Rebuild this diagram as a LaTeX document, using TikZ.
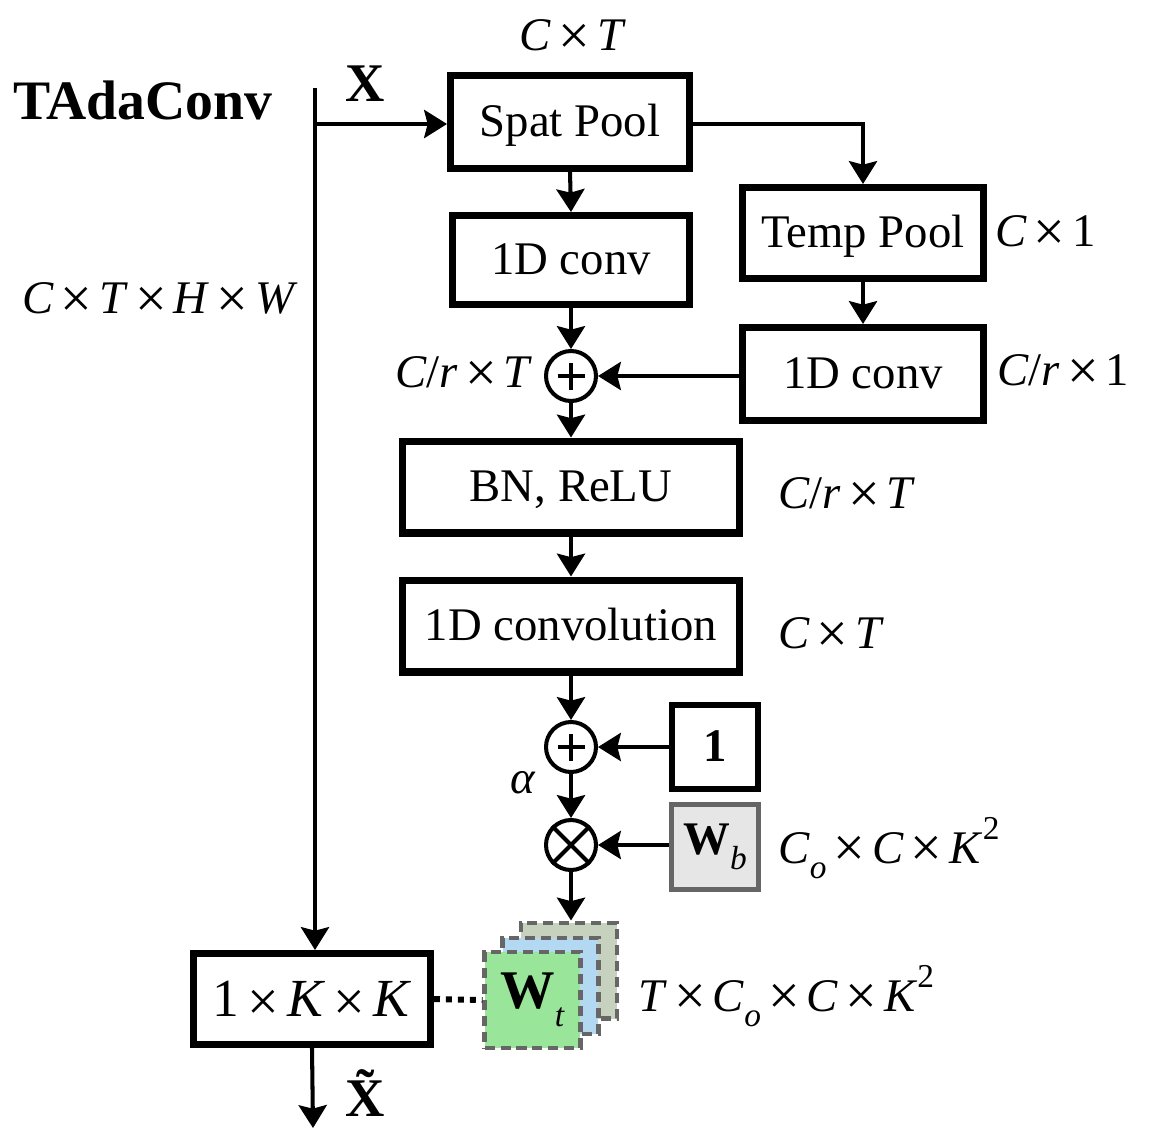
\documentclass[tikz,border=0pt]{standalone}
\usepackage{fontspec}
\setmainfont{Liberation Serif}
\usetikzlibrary{arrows.meta}
% a larger multiplication sign, centred on the math axis
\newcommand\tms{\kern0.15em\raisebox{-0.07em}{\fontsize{32}{32}\selectfont×}\kern0.15em}
\newcommand\vi[1]{\textit{#1}}
\newcommand\lowsub[1]{\raisebox{-0.32em}{\fontsize{19}{19}\selectfont#1}}
\newcommand\highsup[1]{\raisebox{0.5em}{\fontsize{19}{19}\selectfont#1}}
\definecolor{wtgreen}{HTML}{99E599}
\definecolor{wtblue}{HTML}{B3D9F2}
\definecolor{wtsage}{HTML}{C6D2BE}
\definecolor{wbfill}{HTML}{E6E6E6}
\definecolor{edgegray}{HTML}{666666}
\begin{document}
\begin{tikzpicture}[x=0.02cm,y=-0.02cm,
  font=\fontsize{26.6}{32}\selectfont,
  boxed/.style={draw, line width=4pt, inner sep=0pt, align=center, text height=20pt, text depth=3pt},
  conn/.style={line width=2.3pt, -{Stealth[length=13pt,width=16pt,inset=2pt]}},
  wire/.style={line width=2.3pt},
  op/.style={circle, draw, line width=2.3pt, minimum size=1cm, inner sep=0pt},
  opstroke/.style={line width=2.6pt},
  layer/.style={draw=edgegray, line width=2.3pt, dash pattern=on 5.7pt off 3.4pt, minimum size=1.92cm, inner sep=0pt},
  lbl/.style={inner sep=0pt}]
\useasboundingbox (0,0) rectangle (1154,1144);

% title and input
\node[lbl, font=\fontsize{31.7}{36}\selectfont\bfseries] (title) at (143,100) {TAdaConv};
\node[lbl, font=\fontsize{31}{36}\selectfont\bfseries] (xin) at (365,84) {X};
\node[lbl] (shapein) at (160,300) {\vi{C}\tms\vi{T}\tms\vi{H}\tms\vi{W}};

% boxes
\node[boxed, minimum width=4.78cm, minimum height=1.86cm] (spat) at (570,122) {Spat Pool};
\node[boxed, minimum width=4.74cm, minimum height=1.78cm] (conva) at (571,260) {1D conv};
\node[boxed, minimum width=4.82cm, minimum height=1.82cm] (temp) at (863,233) {Temp Pool};
\node[boxed, minimum width=4.82cm, minimum height=1.86cm] (convb) at (863,374) {1D conv};
\node[boxed, minimum width=6.74cm, minimum height=1.84cm] (bn) at (571,487) {BN, ReLU};
\node[boxed, minimum width=6.74cm, minimum height=1.84cm] (convc) at (571,626) {1D convolution};
\node[boxed, line width=3.2pt, minimum width=1.72cm, minimum height=1.68cm, font=\fontsize{26.6}{32}\selectfont\bfseries] (one) at (715,747) {1};
\node[draw=edgegray, fill=wbfill, line width=3.2pt, minimum width=1.74cm, minimum height=1.7cm, inner sep=0pt] (wb) at (715,847) {\textbf{W}\lowsub{\vi{b}}};
\node[boxed, minimum width=4.74cm, minimum height=1.82cm, font=\fontsize{30.5}{36}\selectfont, text height=22pt, text depth=2pt] (kk) at (312,999) {1\tms\vi{K}\tms\vi{K}};

% operator circles
\node[op] (plusa) at (571,376) {};
\draw[opstroke] ([yshift=-0.27cm]plusa.center) -- ([yshift=0.27cm]plusa.center)
            ([xshift=-0.27cm]plusa.center) -- ([xshift=0.27cm]plusa.center);
\node[op] (plusb) at (571,747) {};
\draw[opstroke] ([yshift=-0.27cm]plusb.center) -- ([yshift=0.27cm]plusb.center)
            ([xshift=-0.27cm]plusb.center) -- ([xshift=0.27cm]plusb.center);
\node[op] (times) at (571,845) {};
\draw[wire] (times.north east) -- (times.south west) (times.north west) -- (times.south east);

% stacked per-frame weights
\node[layer, fill=wtsage] (wtc) at (569,970.5) {};
\node[layer, fill=wtblue] (wtb) at (550.5,986) {};
\node[layer, fill=wtgreen] (wt) at (532.5,1000) {\fontsize{31}{36}\selectfont\textbf{W}\lowsub{\vi{t}}};

% dimension labels
\node[lbl] (dspat) at (573,37) {\vi{C}\tms\vi{T}};
\node[lbl, anchor=west] (dtemp) at (995,233) {\vi{C}\tms1};
\node[lbl, anchor=west] (dconvb) at (997,372) {\vi{C}/\vi{r}\tms1};
\node[lbl, anchor=east] (dplus) at (533,374) {\vi{C}/\vi{r}\tms\vi{T}};
\node[lbl, anchor=west] (dbn) at (778,495) {\vi{C}/\vi{r}\tms\vi{T}};
\node[lbl, anchor=west] (dconvc) at (778,635) {\vi{C}\tms\vi{T}};
\node[lbl] (alpha) at (523,783) {\vi{α}};
\node[lbl, anchor=west] (dwb) at (778,848) {\vi{C}\lowsub{\vi{o}}\tms\vi{C}\tms\vi{K}\highsup{2}};
\node[lbl, anchor=west] (dwt) at (638,996) {\vi{T}\tms\vi{C}\lowsub{\vi{o}}\tms\vi{C}\tms\vi{K}\highsup{2}};

% main path and outputs
\coordinate (top) at (315,88);
\coordinate (split) at (315,124);
\coordinate (bottom) at (313,1128);
\node[lbl, font=\fontsize{31}{36}\selectfont\bfseries] (xout) at (365,1093) {\~{X}};

\draw[wire] (top) -- (split);
\draw[conn] (split) -- (kk.north -| split);
\draw[conn] (split) -- (spat.west |- split);
\draw[conn] (kk.south) -- (bottom);

% attention branch
\draw[conn] (spat.south) -- (conva.north);
\draw[conn] (spat.east |- split) -| (temp.north);
\draw[conn] (temp.south) -- (convb.north);
\draw[conn] (conva.south) -- (plusa.north);
\draw[conn] (convb.west |- plusa) -- (plusa.east);
\draw[conn] (plusa.south) -- (bn.north);
\draw[conn] (bn.south) -- (convc.north);
\draw[conn] (convc.south) -- (plusb.north);
\draw[conn] (one.west) -- (plusb.east);
\draw[conn] (plusb.south) -- (times.north);
\draw[conn] (wb.west |- times) -- (times.east);
\draw[conn] (times.south) -- (wtc.north -| times);

% kernel link
\draw[line width=3.4pt, dash pattern=on 3.4pt off 3.4pt] (kk.east) -- (wt.west);
\end{tikzpicture}
\end{document}
